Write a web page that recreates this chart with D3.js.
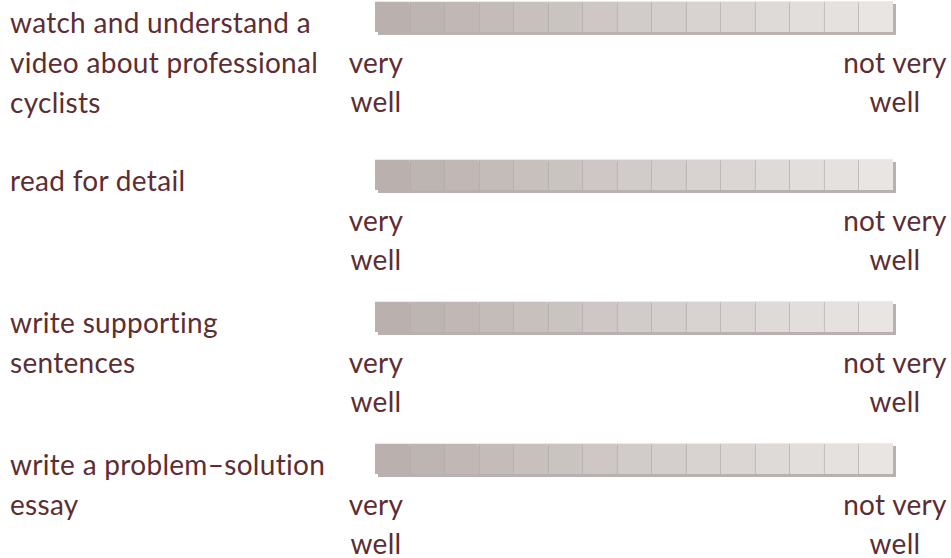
<!DOCTYPE html>
<html>

<head>
    <title>Self assessment</title>
    <script src="https://d3js.org/d3.v7.min.js"></script>
    <style>
        body {
            margin: 0;
            background-color: #ffffff;
        }

        .label {
            font-family: Lato, sans-serif;
            font-size: 28px;
            letter-spacing: 0.3px;
            fill: #5c2e33;
        }
    </style>
</head>

<body>
    <svg id="chart" width="951" height="558"></svg>

    <script>
        // skills, one row each (label lines)
        var skills = [
            ["watch and understand a", "video about professional", "cyclists"],
            ["read for detail"],
            ["write supporting", "sentences"],
            ["write a problem\u2013solution", "essay"]
        ];
        // scale end labels
        var leftEnd = ["very", "well"];
        var rightEnd = ["not very", "well"];
        // the 15 steps of the rating bar
        var steps = [1, 2, 3, 4, 5, 6, 7, 8, 9, 10, 11, 12, 13, 14, 15];

        var svg = d3.select("#chart");

        var rowTop = [1, 159, 301, 443];
        var barLeft = 375,
            barRight = 893,
            barH = 31,
            shadow = 3,
            lineH = 39;

        var xScale = d3.scaleBand().domain(steps).range([barLeft, barRight]);
        var colorScale = d3.scaleLinear()
            .domain([steps[0], steps[steps.length - 1]])
            .range(["#bab1ae", "#e8e5e3"]);

        var rows = svg.selectAll("g.row")
            .data(skills)
            .enter()
            .append("g")
            .attr("class", "row")
            .attr("transform", function(d, i) {
                return "translate(0," + rowTop[i] + ")";
            });

        // shadow behind bar (right and bottom)
        rows.append("rect")
            .attr("x", barLeft + shadow)
            .attr("y", shadow)
            .attr("width", barRight - barLeft)
            .attr("height", barH)
            .style("fill", "#b9b1af");

        rows.selectAll("rect.cell")
            .data(steps)
            .enter()
            .append("rect")
            .attr("class", "cell")
            .attr("x", function(d) { return xScale(d); })
            .attr("y", 0)
            .attr("width", xScale.bandwidth())
            .attr("height", barH)
            .style("fill", function(d) { return colorScale(d); });

        // dividers between the cells
        rows.selectAll("line.div")
            .data(steps.slice(1))
            .enter()
            .append("line")
            .attr("class", "div")
            .attr("x1", function(d) { return Math.round(xScale(d)) + 0.5; })
            .attr("x2", function(d) { return Math.round(xScale(d)) + 0.5; })
            .attr("y1", 0)
            .attr("y2", barH)
            .style("stroke", "#b1a8a6")
            .style("stroke-opacity", 0.6);

        // light top edge
        rows.append("line")
            .attr("x1", barLeft)
            .attr("x2", barRight)
            .attr("y1", 0.5)
            .attr("y2", 0.5)
            .style("stroke", "#ece9e8");

        // skill text
        rows.append("text")
            .attr("class", "label")
            .selectAll("tspan")
            .data(function(d) { return d; })
            .enter()
            .append("tspan")
            .attr("x", 10)
            .attr("y", function(d, i) { return 32 + i * 40; })
            .text(function(d) { return d; });

        rows.append("text")
            .attr("class", "label")
            .attr("text-anchor", "middle")
            .selectAll("tspan")
            .data(leftEnd)
            .enter()
            .append("tspan")
            .attr("x", barLeft + 1)
            .attr("y", function(d, i) { return 72 + i * lineH; })
            .text(function(d) { return d; });

        rows.append("text")
            .attr("class", "label")
            .attr("text-anchor", "middle")
            .selectAll("tspan")
            .data(rightEnd)
            .enter()
            .append("tspan")
            .attr("x", barRight + 2)
            .attr("y", function(d, i) { return 72 + i * lineH; })
            .text(function(d) { return d; });
    </script>
</body>

</html>
